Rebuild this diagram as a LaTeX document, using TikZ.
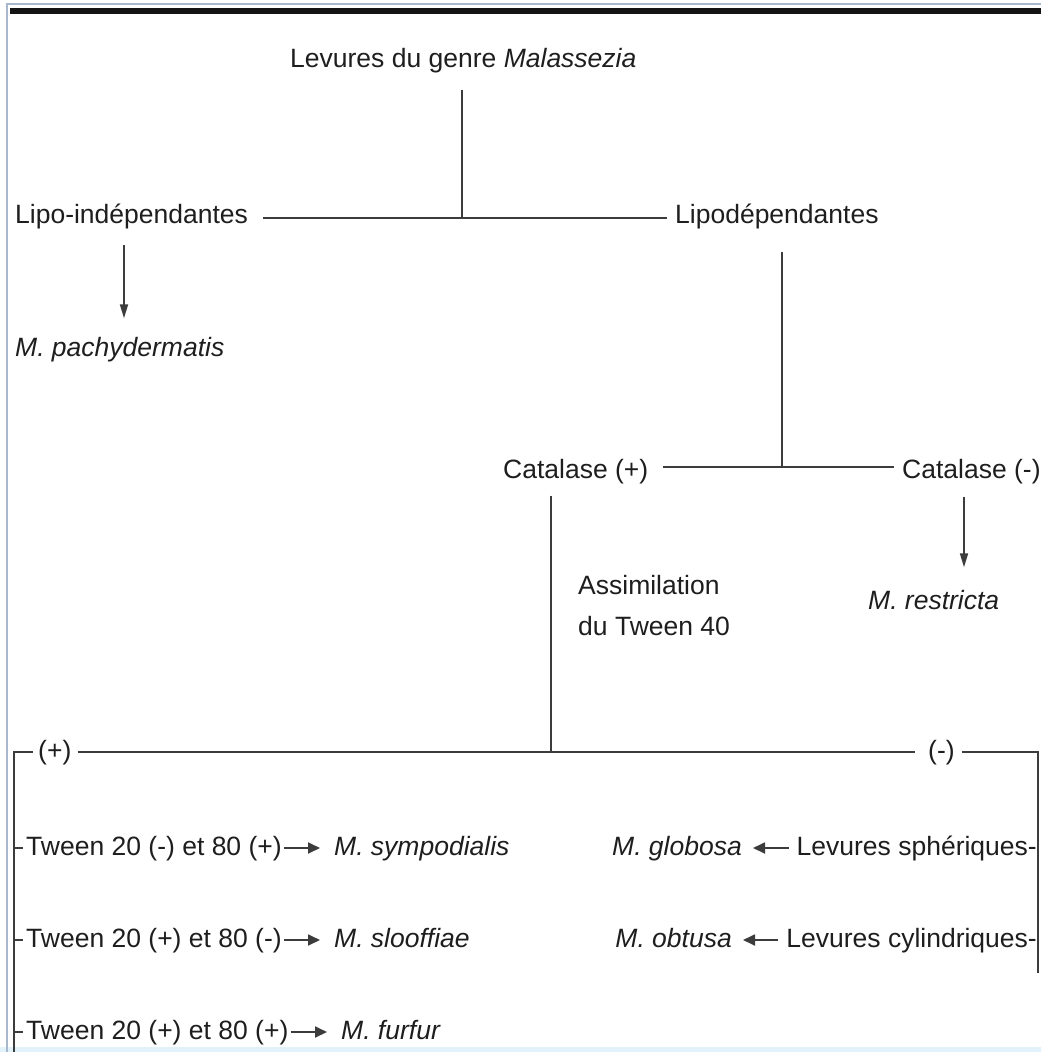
\documentclass[tikz,border=0pt]{standalone}
\usepackage{fontspec}
\setmainfont{Liberation Sans}
\usetikzlibrary{arrows.meta}
\definecolor{txt}{HTML}{1E1E1E}
\definecolor{lin}{HTML}{3C3C3C}
\definecolor{frameblue}{HTML}{A8B8CC}
\definecolor{botblue}{HTML}{E2F2FA}
\begin{document}
\begin{tikzpicture}[x=1pt,y=-1pt,
  lbl/.style={inner sep=0pt, text height=19pt, text depth=0pt, font=\fontsize{26.5}{32}\selectfont, text=txt},
  ln/.style={draw=lin, line width=1.8pt},
  varr/.style={ln, -{Triangle[length=14pt,width=8pt]}},
  harr/.style={ln, -{Triangle[length=12pt,width=11pt]}}]
% canvas and frame
\fill[white] (0,0) rectangle (1041,1052);
\useasboundingbox (0,0) rectangle (1041,1052);
\fill[botblue] (0,1047) rectangle (1041,1052);
\draw[frameblue, line width=1.5pt] (7,1052) -- (7,4) -- (1041,4);
\fill[black!92] (10,8) rectangle (1041,14);

% nodes
\node[lbl, anchor=west] (title) at (290,58) {Levures du genre \textit{Malassezia}};
\node[lbl, anchor=west] (li) at (15,214) {Lipo-indépendantes};
\node[lbl, anchor=west] (ld) at (675,214) {Lipodépendantes};
\node[lbl, anchor=west] (mp) at (15,347) {\textit{M. pachydermatis}};
\node[lbl, anchor=west] (cp) at (503,469) {Catalase (+)};
\node[lbl, anchor=west] (cm) at (902,469) {Catalase (-)};
\node[lbl, anchor=west] (mr) at (868,600) {\textit{M. restricta}};
\node[lbl, anchor=west, align=left, font=\fontsize{26.5}{41}\selectfont] (as) at (578,626) {Assimilation\\du Tween 40};
\node[lbl, anchor=west] (pl) at (38,750) {(+)};
\node[lbl, anchor=west] (mi) at (928,750) {(-)};

\node[lbl, anchor=west] (t1) at (26,846) {Tween 20 (-) et 80 (+)};
\node[lbl, anchor=west] (t2) at (26,938) {Tween 20 (+) et 80 (-)};
\node[lbl, anchor=west] (t3) at (26,1030) {Tween 20 (+) et 80 (+)};
\node[lbl, anchor=west] (s1) at (334,846) {\textit{M. sympodialis}};
\node[lbl, anchor=west] (s2) at (334,938) {\textit{M. slooffiae}};
\node[lbl, anchor=west] (s3) at (341,1030) {\textit{M. furfur}};

\node[lbl, anchor=east] (r1) at (1037,846) {Levures sphériques-};
\node[lbl, anchor=east] (r2) at (1037,938) {Levures cylindriques-};
\node[lbl, anchor=east] (g1) at (742,846) {\textit{M. globosa}};
\node[lbl, anchor=east] (g2) at (732,938) {\textit{M. obtusa}};

% junction coordinates
\coordinate (j1) at (462,218);
\coordinate (j2) at (782,467);
\coordinate (j3) at (551,752);
\coordinate (lc) at (14,752);
\coordinate (rc) at (1038,752);
\coordinate (lb) at (14,1052);
\coordinate (rb) at (1038,973);

% connectors
\draw[ln] (title.south -| j1) ++(0,22) -- (j1);
\draw[ln] ([xshift=15pt,yshift=-4pt]li.east) -- ([xshift=-8pt,yshift=-4pt]ld.west);
\draw[varr] (124,245) -- ([yshift=19pt]mp.north -| 124,0);
\draw[ln] (ld.south -| j2) ++(0,28) -- (j2);
\draw[ln] ([xshift=15pt,yshift=2pt]cp.east) -- ([xshift=-8pt,yshift=2pt]cm.west);
\draw[varr] (cm.south -| 964,0) ++(0,18) -- ([yshift=23pt]mr.north -| 964,0);
\draw[ln] (cp.south -| j3) ++(0,17) -- (j3);
\draw[ln] ([xshift=-5pt,yshift=-2pt]pl.west) -- (lc) -- (lb);
\draw[ln] ([xshift=6pt,yshift=-2pt]pl.east) -- ([xshift=-13pt,yshift=-2pt]mi.west);
\draw[ln] ([xshift=7pt,yshift=-2pt]mi.east) -- (rc) -- (rb);
\foreach \t in {t1,t2,t3} \draw[ln, line width=1.4pt] ([yshift=-2pt]\t.west -| lc) -- ([xshift=-3pt,yshift=-2pt]\t.west);
\draw[harr] ([xshift=2pt,yshift=-2pt]t1.east) -- ([xshift=-14pt,yshift=-2pt]s1.west);
\draw[harr] ([xshift=2pt,yshift=-2pt]t2.east) -- ([xshift=-14pt,yshift=-2pt]s2.west);
\draw[harr] ([xshift=2pt,yshift=-2pt]t3.east) -- ([xshift=-14pt,yshift=-2pt]s3.west);
\draw[harr] ([xshift=-8pt,yshift=-2pt]r1.west) -- ([xshift=11pt,yshift=-2pt]g1.east);
\draw[harr] ([xshift=-8pt,yshift=-2pt]r2.west) -- ([xshift=11pt,yshift=-2pt]g2.east);
\end{tikzpicture}
\end{document}
